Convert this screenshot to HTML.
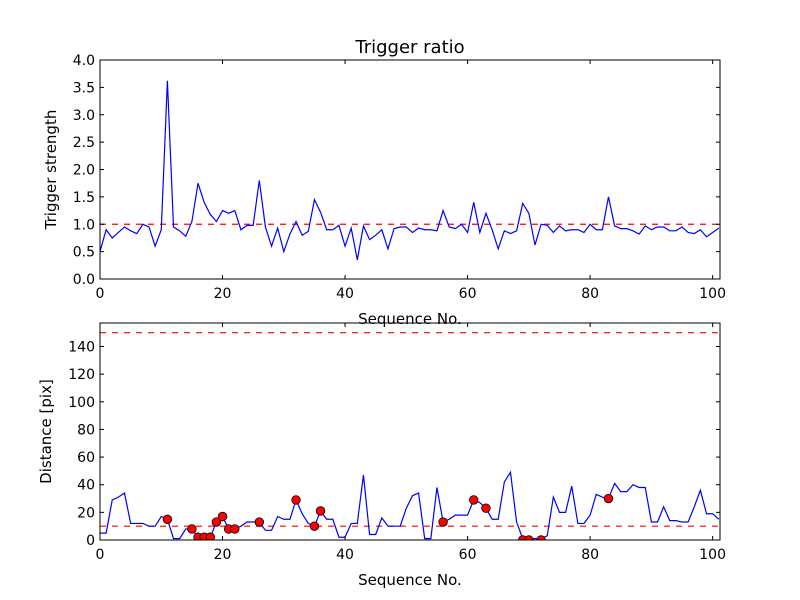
<!DOCTYPE html>
<html><head><meta charset="utf-8"><style>body{margin:0;background:#fff}svg{display:block;font-family:"DejaVu Sans","Liberation Sans",sans-serif}</style></head>
<body>
<svg id="c" width="800" height="600"></svg>
<script>
const xs = Array.from({length:102},(_, i)=>i);
const strength = [0.5,0.9,0.75,0.85,0.95,0.88,0.83,1.0,0.95,0.6,0.9,3.62,0.95,0.88,0.78,1.05,1.75,1.4,1.18,1.05,1.25,1.2,1.25,0.9,0.98,0.98,1.8,0.95,0.6,0.93,0.5,0.82,1.05,0.8,0.87,1.45,1.22,0.9,0.9,0.98,0.6,0.93,0.35,0.97,0.72,0.8,0.9,0.55,0.92,0.95,0.95,0.85,0.93,0.9,0.9,0.88,1.25,0.95,0.92,1.0,0.85,1.4,0.85,1.2,0.9,0.55,0.88,0.83,0.88,1.38,1.2,0.62,1.0,0.98,0.85,0.97,0.88,0.9,0.9,0.85,1.0,0.9,0.9,1.5,0.97,0.92,0.92,0.88,0.82,0.97,0.9,0.95,0.95,0.88,0.88,0.95,0.85,0.83,0.9,0.77,0.85,0.93];
const distance = [5,5,29,31,34,12,12,12,10,10,17,15,1,1,8,8,2,2,2,13,17,8,8,10,13,13,13,7,7,17,15,15,29,19,12,10,21,15,15,2,2,12,12,47,4,4,16,10,10,10,23,32,34,1,1,38,13,15,18,18,18,29,27,23,15,15,42,49,13,1,1,1,1,3,31,20,20,39,12,12,18,33,31,30,41,35,35,40,38,38,13,13,24,14,14,13,13,24,36,19,19,15];
const markIdx = [11,15,16,17,18,19,20,21,22,26,32,35,36,56,61,63,69,70,72,83];
const markVal = [15,8,2,2,2,13,17,8,8,13,29,10,21,13,29,23,0,0,0,30];
const topTicks = [0,0.5,1.0,1.5,2.0,2.5,3.0,3.5,4.0];
const botTicks = [0,20,40,60,80,100,120,140];
const xTicks = [0,20,40,60,80,100];
const topThreshold = 1.0, botThresholds = [10,150];

const svg = document.getElementById('c'), NS='http://www.w3.org/2000/svg';
function el(t,a,p){const e=document.createElementNS(NS,t);for(const k in a)e.setAttribute(k,a[k]);(p||svg).appendChild(e);return e;}
const L=100,R=720,XMAX=101.2;
const X=v=>L+v*(R-L)/XMAX;

function panel(top,bot,ymax,ticks,fmt,name,ylabel){
  const Y=v=>bot-v*(bot-top)/ymax;
  const g=el('g',{});
  
  
  const cid='clip'+name;
  const cp=el('clipPath',{id:cid},g);el('rect',{x:L,y:top,width:R-L,height:bot-top},cp);
  return {Y,g,cid,top,bot,ticks,fmt,ylabel};
}
function axes(p){
  const {g,Y,top,bot}=p;
  el('rect',{x:L,y:top,width:R-L,height:bot-top,fill:'none',stroke:'#000','stroke-width':1},g);
  for(const t of xTicks){const x=X(t);
    el('line',{x1:x,x2:x,y1:bot,y2:bot-4,stroke:'#000'},g);el('line',{x1:x,x2:x,y1:top,y2:top+4,stroke:'#000'},g);
    const tx=el('text',{x:x,y:bot+19,'text-anchor':'middle','font-size':14},g);tx.textContent=t;
    
    }
  for(const t of p.ticks){const y=Y(t);
    el('line',{x1:L,x2:L+4,y1:y,y2:y,stroke:'#000'},g);el('line',{x1:R,x2:R-4,y1:y,y2:y,stroke:'#000'},g);
    const tx=el('text',{x:L-5,y:y+5,'text-anchor':'end','font-size':14},g);tx.textContent=p.fmt(t);
    
    }
  const xl=el('text',{x:410,y:bot+45,'text-anchor':'middle','font-size':15},g);xl.textContent='Sequence No.';
  
  
  const cy=(top+bot)/2, lx=p.ylabelX;
  const yl=el('text',{x:lx,y:cy,'text-anchor':'middle','font-size':15,transform:`rotate(-90 ${lx} ${cy})`},g);yl.textContent=p.ylabel;
  
  
}
// top
const p1=panel(60,279,4,topTicks,v=>v.toFixed(1),'top-panel','Trigger strength');p1.ylabelX=56;
const c1=el('g',{'clip-path':`url(#${p1.cid})`},p1.g);
const th1=el('line',{x1:L,x2:R,y1:p1.Y(topThreshold),y2:p1.Y(topThreshold),stroke:'#f00','stroke-width':1.2,'stroke-dasharray':'6,6'},c1);


const l1=el('polyline',{points:xs.map((x,i)=>X(x)+','+p1.Y(strength[i])).join(' '),fill:'none',stroke:'#00f','stroke-width':1.2},c1);


axes(p1);
const title=el('text',{x:410,y:53,'text-anchor':'middle','font-size':18});title.textContent='Trigger ratio';


// bottom
const p2=panel(323,540,157,botTicks,v=>String(v),'bottom-panel','Distance [pix]');p2.ylabelX=51;
const c2=el('g',{'clip-path':`url(#${p2.cid})`},p2.g);
for(const t of botThresholds){const ln=el('line',{x1:L,x2:R,y1:p2.Y(t),y2:p2.Y(t),stroke:'#f00','stroke-width':1.2,'stroke-dasharray':'6,6'},c2);
  
  }
const l2=el('polyline',{points:xs.map((x,i)=>X(x)+','+p2.Y(distance[i])).join(' '),fill:'none',stroke:'#00f','stroke-width':1.2},c2);


markIdx.forEach((ix,k)=>{const m=el('circle',{cx:X(ix),cy:p2.Y(markVal[k]),r:4.3,fill:'#f00',stroke:'#000','stroke-width':0.8},c2);
  
  });
axes(p2);
</script>
</body></html>
